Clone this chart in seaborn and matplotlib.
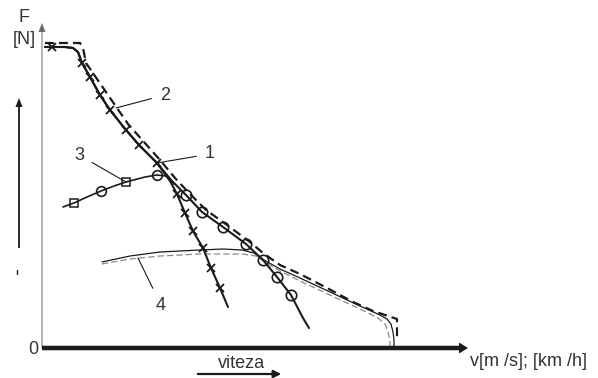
import numpy as np
import pandas as pd
import matplotlib
matplotlib.use('Agg')
import matplotlib.pyplot as plt
import seaborn as sns

# chart units: v = speed (x), F = traction force (y), origin at the axes corner
# ── shared upper branch (curves 1 and 2) ─────────────
v_top = [3, 10, 23, 31, 36, 40, 48, 58, 68, 84, 97, 115]
F_top = [301, 301, 301, 300, 296, 285, 271, 253, 238, 218, 203, 185]

# curve 2 (x markers)
v_c2 = v_top + [128, 135, 143, 151, 161, 169, 178, 186]
F_c2 = F_top + [167, 154, 135, 117, 100, 80, 60, 41]
mk_c2 = [1, 5, 6, 7, 8, 9, 10, 11, 13, 14, 15, 16, 17, 18]

# curve 1 (circle markers)
v_c1 = v_top + [130, 144, 160, 181, 204, 221, 235, 249, 261, 267]
F_c1 = F_top + [167, 153, 136, 121, 104, 88, 71, 53, 30, 20]
mk_c1 = [13, 14, 15, 16, 17, 18, 19]

# curve 3 (squares / circles)
v_c3 = [21, 32, 45, 59, 72, 84, 103, 115, 124, 132]
F_c3 = [141, 145, 151, 157, 162, 166, 171, 173, 172, 164]
sq_c3 = [1, 5]
ci_c3 = [3, 7]

# ideal hyperbola envelope (heavy dashed)
v_env = [3, 38, 41, 44, 86, 118, 133, 148, 164, 185, 208, 221, 238, 258, 285, 311, 331, 355, 355]
F_env = [305, 305, 300, 285, 224, 188, 170, 154, 138, 123, 106, 95, 83, 74, 60, 46, 37, 29, 8]

# curve 4 (thin solid + thin gray dashed)
v_c4 = [60, 88, 118, 158, 181, 200, 212, 222, 238, 258, 288, 318, 338, 345, 349, 351, 352, 352]
F_c4 = [86, 92, 96, 98, 99, 98, 95, 88, 79, 70, 56, 42, 33, 29, 24, 16, 8, 0]
v_g4 = [60, 88, 118, 158, 200, 214, 226, 240, 258, 288, 318, 336, 343, 346, 348, 348]
F_g4 = [84, 89, 92, 94, 94, 92, 84, 76, 67, 53, 39, 30, 24, 16, 8, 0]

ink = '#1c1a1b'

sns.set_style('white')
plt.rcParams['font.family'] = ['Liberation Sans', 'DejaVu Sans']

fig = plt.figure(figsize=(5.98, 3.78), dpi=100)
ax = fig.add_axes([0, 0, 1, 1])
ax.set_xlim(-42, 556)
ax.set_ylim(-30, 348)
ax.axis('off')

common = dict(estimator=None, sort=False, legend=False, ax=ax)

# envelope lines
sns.lineplot(x=v_env, y=F_env, color=ink, lw=1.6, linestyle=(0, (4, 2.3)), zorder=2, **common)
sns.lineplot(x=v_c4, y=F_c4, color=ink, lw=0.9, zorder=2, **common)
sns.lineplot(x=v_g4, y=F_g4, color='#8a8a8a', lw=0.9, linestyle=(0, (5, 2.5)), zorder=2, **common)

# curves 2, 1, 3
sns.lineplot(x=v_c2, y=F_c2, color=ink, lw=1.5, marker='x', markevery=mk_c2,
             markersize=6, markeredgewidth=1.3, markeredgecolor=ink, zorder=3, **common)
sns.lineplot(x=v_c1, y=F_c1, color=ink, lw=1.5, marker='o', markevery=mk_c1,
             markersize=7.5, markerfacecolor='none', markeredgewidth=1.2,
             markeredgecolor=ink, zorder=3, **common)
sns.lineplot(x=v_c3, y=F_c3, color=ink, lw=1.2, marker='s', markevery=sq_c3,
             markersize=5.5, markerfacecolor='none', markeredgewidth=1.1,
             markeredgecolor=ink, zorder=3, **common)
sns.lineplot(x=v_c3, y=F_c3, color=ink, lw=0, marker='o', markevery=ci_c3,
             markersize=7, markerfacecolor='none', markeredgewidth=1.2,
             markeredgecolor=ink, zorder=3, **common)

# ── axes ─────────────────────────────────────────────
ax.arrow(0, 0, 0, 325, width=1.0, head_width=7, head_length=9,
         length_includes_head=True, color='#6a6a6a', lw=0, zorder=1)
ax.arrow(0, 0, 426, 0, width=4.5, head_width=11, head_length=9,
         length_includes_head=True, color=ink, lw=0, zorder=4)
ax.arrow(-23, 100, 0, 150, width=1.8, head_width=7, head_length=9,
         length_includes_head=True, color=ink, lw=0)
ax.plot([-25, -25], [74, 78], color=ink, lw=1)
ax.annotate('', xy=(242, -26), xytext=(153, -26),
            arrowprops=dict(arrowstyle='-|>', color=ink, lw=1.6, mutation_scale=11))

fs = 13
ax.text(-18, 331, 'F', fontsize=fs, color='#333333', ha='center', va='center')
ax.text(-18, 309, '[N]', fontsize=fs, color='#333333', ha='center', va='center')
ax.text(-9, -1, '0', fontsize=fs, color='#333333', ha='center', va='center')
ax.text(200, -15, 'viteza', fontsize=fs, color='#333333', ha='center', va='center')
ax.text(428, -14, 'v[m /s]; [km /h]', fontsize=fs, color='#333333', ha='left', va='center')

# curve labels with leaders
leader = dict(arrowstyle='-', color=ink, lw=0.8, shrinkA=4, shrinkB=0)
ax.annotate('1', xy=(v_c1[11], F_c1[11]), xytext=(168, 194), fontsize=fs,
            color='#333333', ha='center', va='center', arrowprops=leader)
ax.annotate('2', xy=(v_c2[8] + 6, F_c2[8] + 2), xytext=(123, 253), fontsize=fs,
            color='#333333', ha='center', va='center', arrowprops=leader)
ax.annotate('3', xy=(v_c3[5], F_c3[5]), xytext=(37, 193), fontsize=fs,
            color='#333333', ha='center', va='center', arrowprops=leader)
ax.annotate('4', xy=(96, 90), xytext=(119, 43), fontsize=fs,
            color='#333333', ha='center', va='center', arrowprops=leader)

plt.savefig('out.png', dpi=100)
